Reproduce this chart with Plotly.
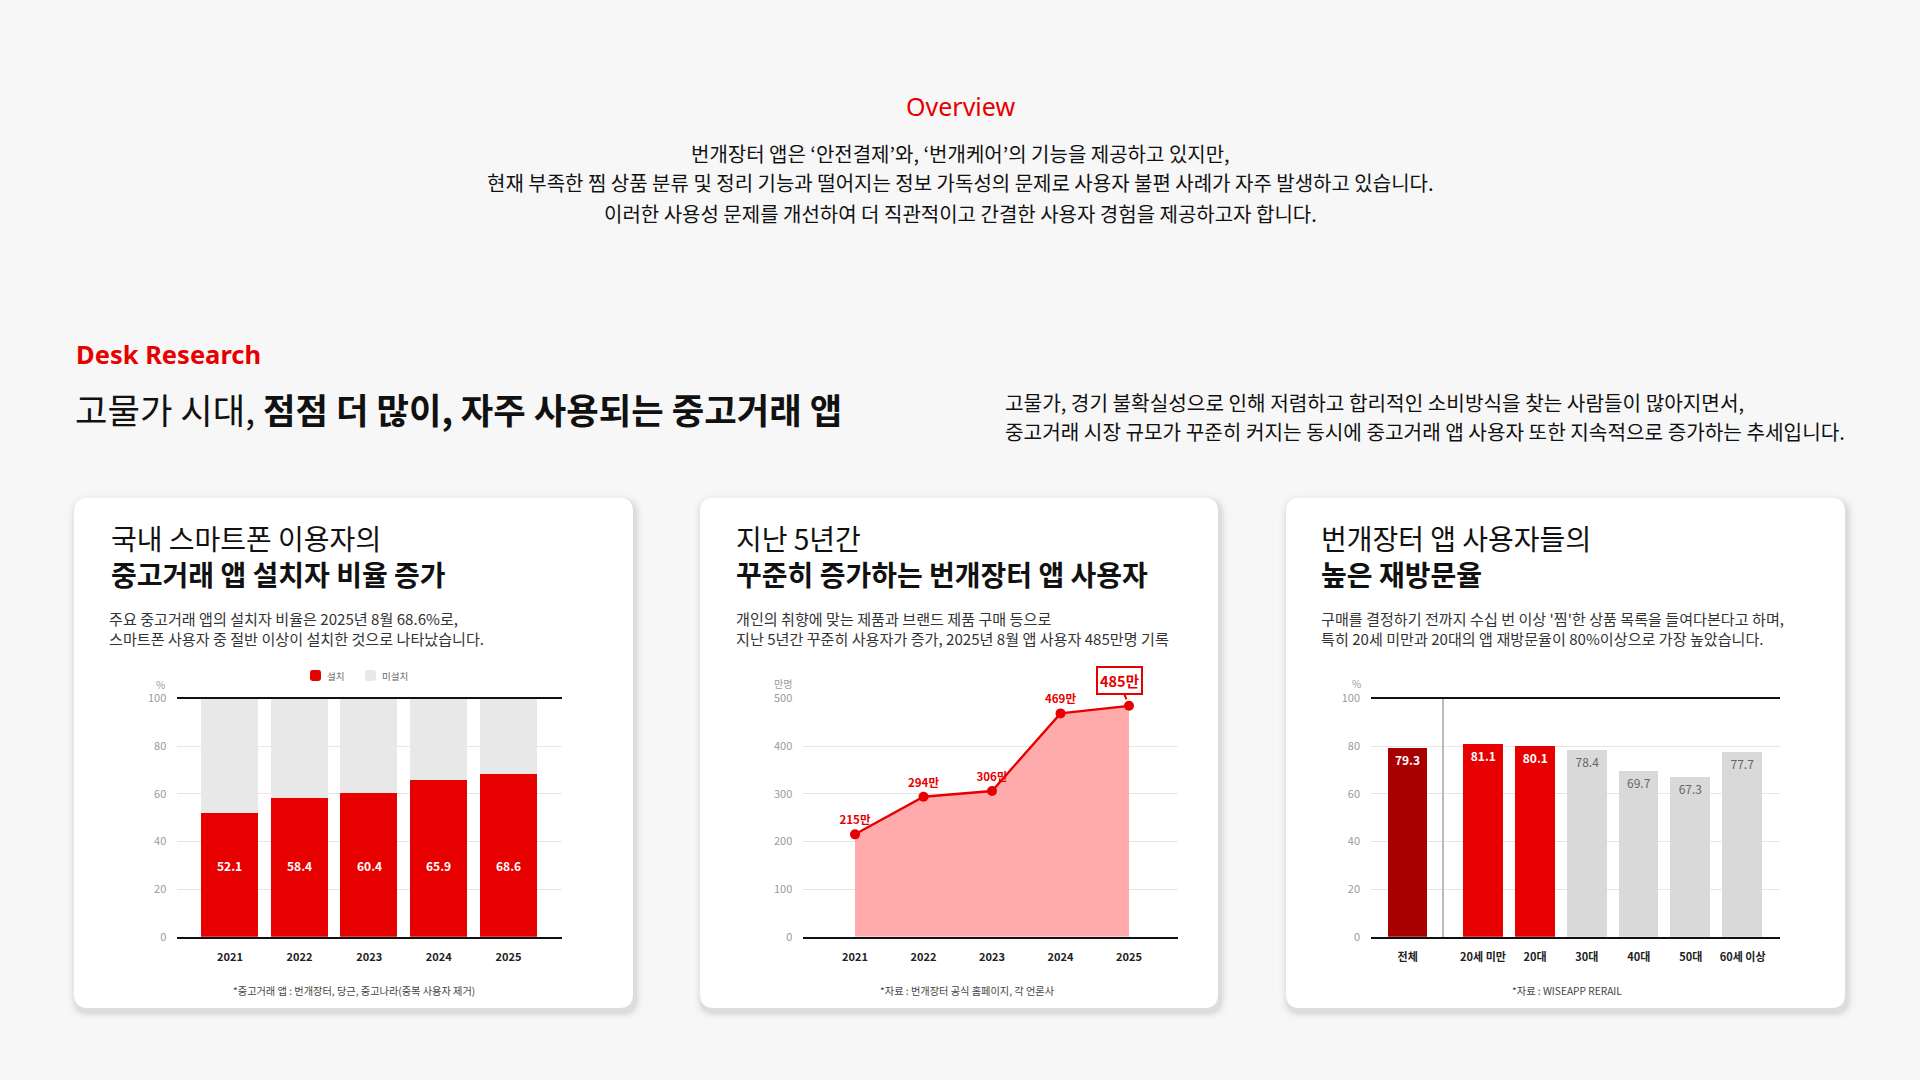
import plotly.graph_objects as go

# ---------------- data ----------------
years = ["2021", "2022", "2023", "2024", "2025"]
install_rate = [52.1, 58.4, 60.4, 65.9, 68.6]          # 설치 (%)
users_10k = [215, 294, 306, 469, 485]                   # 사용자 (만명)
age_groups = ["전체", "20세 미만", "20대", "30대", "40대", "50대", "60세 이상"]
revisit_rate = [79.3, 81.1, 80.1, 78.4, 69.7, 67.3, 77.7]
revisit_colors = ["#A80000", "#E60000", "#E60000", "#D9D9D9", "#D9D9D9", "#D9D9D9", "#D9D9D9"]
revisit_highlight = [True, True, True, False, False, False, False]

W, H = 1920, 1080
KR = "Noto Sans CJK KR"
LAT = "Noto Sans"
RED = "#E60000"
GRAY_BAR = "#E8E8E8"


def px(x):
    return x / W


def py(y):
    return 1 - y / H


def rrect(x0, y0, x1, y1, r):
    return (f"M {px(x0+r)},{py(y0)} L {px(x1-r)},{py(y0)} Q {px(x1)},{py(y0)} {px(x1)},{py(y0+r)} "
            f"L {px(x1)},{py(y1-r)} Q {px(x1)},{py(y1)} {px(x1-r)},{py(y1)} "
            f"L {px(x0+r)},{py(y1)} Q {px(x0)},{py(y1)} {px(x0)},{py(y1-r)} "
            f"L {px(x0)},{py(y0+r)} Q {px(x0)},{py(y0)} {px(x0+r)},{py(y0)} Z")


fig = go.Figure()

# ---------------- chart 1: stacked bars ----------------
fig.add_trace(go.Bar(x=years, y=install_rate, name="설치", marker=dict(color=RED, line=dict(width=0)),
                     width=0.82, xaxis="x", yaxis="y", showlegend=False, hoverinfo="skip"))
fig.add_trace(go.Bar(x=years, y=[100 - v for v in install_rate], name="미설치",
                     marker=dict(color=GRAY_BAR, line=dict(width=0)),
                     width=0.82, xaxis="x", yaxis="y", showlegend=False, hoverinfo="skip"))

# ---------------- chart 2: area line ----------------
fig.add_trace(go.Scatter(x=years, y=users_10k, mode="lines+markers+text",
                         line=dict(color=RED, width=2.3), marker=dict(color=RED, size=10),
                         fill="tozeroy", fillcolor="#FFABAB",
                         text=[f"{v}만" for v in users_10k[:-1]] + [""],
                         textposition="top center",
                         textfont=dict(family=KR, size=11.5, color=RED, weight="bold"),
                         xaxis="x2", yaxis="y2", showlegend=False, hoverinfo="skip", cliponaxis=False))

# ---------------- chart 3: bars (전체 | age groups) ----------------
def lab(v, hi):
    return f"<b>{v}</b>" if hi else f"{v}"

fig.add_trace(go.Bar(x=age_groups[:1], y=revisit_rate[:1], marker=dict(color=revisit_colors[:1], line=dict(width=0)),
                     width=0.54, text=[lab(v, h) for v, h in zip(revisit_rate[:1], revisit_highlight[:1])],
                     textposition="inside", insidetextanchor="end", textangle=0,
                     textfont=dict(family=KR, size=12, color=["white" if h else "#666" for h in revisit_highlight[:1]]),
                     xaxis="x3", yaxis="y3", showlegend=False, hoverinfo="skip"))
fig.add_trace(go.Bar(x=age_groups[1:], y=revisit_rate[1:], marker=dict(color=revisit_colors[1:], line=dict(width=0)),
                     width=0.77, text=[lab(v, h) for v, h in zip(revisit_rate[1:], revisit_highlight[1:])],
                     textposition="inside", insidetextanchor="end", textangle=0,
                     textfont=dict(family=KR, size=12, color=["white" if h else "#666" for h in revisit_highlight[1:]]),
                     xaxis="x4", yaxis="y4", showlegend=False, hoverinfo="skip"))

# ---------------- axes ----------------
ydom = [py(941.7), py(700)]
grid = "#E6E6E6"
tickf = dict(family=KR, size=11, color="#9A9A9A")
xtickf = dict(family=KR, size=11, color="#222", weight="bold")

def xax(dom, rng, mirror):
    return dict(domain=[px(dom[0]), px(dom[1])], range=rng, type="category", showgrid=False, zeroline=False,
                showline=True, linecolor="#111", linewidth=2, mirror=mirror, ticks="",
                tickfont=xtickf, ticklabelstandoff=9, fixedrange=True)

def yax(anchor, rng, dtick, show=True):
    return dict(domain=ydom, range=rng, dtick=dtick, anchor=anchor, showgrid=True, gridcolor=grid, gridwidth=1,
                zeroline=False, showline=False, ticks="", tickfont=tickf, showticklabels=show,
                ticklabelstandoff=10, fixedrange=True)

fig.update_layout(
    xaxis=dict(xax((177.3, 562), [-0.757, 4.77], True), anchor="y"),
    yaxis=yax("x", [0, 100], 20),
    xaxis2=dict(xax((803.3, 1178), [-0.755, 4.715], False), anchor="y2"),
    yaxis2=yax("x2", [0, 500], 100),
    xaxis3=dict(xax((1371, 1444.3), [-0.5, 0.5], True), anchor="y3"),
    yaxis3=yax("x3", [0, 100], 20),
    xaxis4=dict(xax((1444.3, 1780), [-0.746, 5.72], True), anchor="y4"),
    yaxis4=dict(yax("x4", [0, 100], 20, show=False), showline=True, linecolor="#BBBBBB", linewidth=1.5),
)

# ---------------- card shapes ----------------
shapes = []
cards = [(74, 496, 633, 1014), (700, 496, 1218, 1014), (1286, 496, 1845, 1014)]
for (x0, y0, x1, y1) in cards:
    for grow, op in [(9, 0.012), (6, 0.02), (4, 0.03), (2, 0.045)]:
        shapes.append(dict(type="path", xref="paper", yref="paper", layer="below",
                           path=rrect(x0 - grow + 2, y0 - grow + 4, x1 + grow + 2, y1 + grow + 4, 14 + grow),
                           fillcolor=f"rgba(0,0,0,{op})", line=dict(width=0)))
    shapes.append(dict(type="path", xref="paper", yref="paper", layer="below",
                       path=rrect(x0, y0, x1, y1, 14), fillcolor="white", line=dict(width=0)))

# legend squares chart 1
shapes.append(dict(type="path", xref="paper", yref="paper", layer="above",
                   path=rrect(310, 671, 321, 682, 2.5), fillcolor=RED, line=dict(width=0)))
shapes.append(dict(type="path", xref="paper", yref="paper", layer="above",
                   path=rrect(365, 671, 376, 682, 2.5), fillcolor=GRAY_BAR, line=dict(width=0)))

# ---------------- annotations ----------------
ann = []

def text(x, y, s, size, color="#111", family=KR, anchor="left", weight=None):
    f = dict(family=family, size=size, color=color)
    if weight:
        f["weight"] = weight
    ann.append(dict(x=px(x), y=py(y), xref="paper", yref="paper", text=s, showarrow=False,
                    xanchor=anchor, yanchor="middle", align=anchor if anchor != "center" else "center", font=f))

text(960, 98.5, "Overview", 25, RED, LAT, "center")
text(960, 146.5, "번개장터 앱은 ‘안전결제’와, ‘번개케어’의 기능을 제공하고 있지만,", 20, "#111", KR, "center")
text(960, 176.5, "현재 부족한 찜 상품 분류 및 정리 기능과 떨어지는 정보 가독성의 문제로 사용자 불편 사례가 자주 발생하고 있습니다.", 20, "#111", KR, "center")
text(960, 207.5, "이러한 사용성 문제를 개선하여 더 직관적이고 간결한 사용자 경험을 제공하고자 합니다.", 20, "#111", KR, "center")

text(74, 350, "Desk Research", 25.5, RED, LAT, "left", "bold")
text(73, 405, "고물가 시대, <b>점점 더 많이, 자주 사용되는 중고거래 앱</b>", 35.3, "#111", KR)
text(1003, 399.5, "고물가, 경기 불확실성으로 인해 저렴하고 합리적인 소비방식을 찾는 사람들이 많아지면서,", 20.2, "#111", KR)
text(1003, 428.5, "중고거래 시장 규모가 꾸준히 커지는 동시에 중고거래 앱 사용자 또한 지속적으로 증가하는 추세입니다.", 20.2, "#111", KR)

# card titles / descriptions / footnotes
titles = [("국내 스마트폰 이용자의", "중고거래 앱 설치자 비율 증가", 109),
          ("지난 5년간", "꾸준히 증가하는 번개장터 앱 사용자", 734),
          ("번개장터 앱 사용자들의", "높은 재방문율", 1319)]
for t1, t2, x in titles:
    text(x, 555.5, f"{t1}<br><b>{t2}</b>", 28, "#111")

descs = [("주요 중고거래 앱의 설치자 비율은 2025년 8월 68.6%로,", "스마트폰 사용자 중 절반 이상이 설치한 것으로 나타났습니다.", 107),
         ("개인의 취향에 맞는 제품과 브랜드 제품 구매 등으로", "지난 5년간 꾸준히 사용자가 증가, 2025년 8월 앱 사용자 485만명 기록", 734),
         ("구매를 결정하기 전까지 수십 번 이상 '찜'한 상품 목록을 들여다본다고 하며,", "특히 20세 미만과 20대의 앱 재방문율이 80%이상으로 가장 높았습니다.", 1319)]
for d1, d2, x in descs:
    text(x, 628.3, f"{d1}<br>{d2}", 15.1, "#333")

text(354, 996.5, "*중고거래 앱 : 번개장터, 당근, 중고나라(중복 사용자 제거)", 10.2, "#444", KR, "center")
text(967, 996.5, "*자료 : 번개장터 공식 홈페이지, 각 언론사", 10.2, "#444", KR, "center")
text(1567, 996.5, "*자료 : WISEAPP RERAIL", 10.2, "#444", KR, "center")

# unit labels
text(160, 685.5, "%", 10, "#9A9A9A", KR, "center")
text(783, 685, "만명", 10, "#9A9A9A", KR, "center")
text(1356, 685, "%", 10, "#9A9A9A", KR, "center")

# legend texts
text(325, 677, "설치", 9.5, "#666")
text(380, 677, "미설치", 9.5, "#666")

# bar labels chart 1 (fixed height inside bars)
for i, v in enumerate(install_rate):
    ann.append(dict(x=i, y=30.0, xref="x", yref="y", text=f"<b>{v}</b>", showarrow=False,
                    font=dict(family=KR, size=12, color="white"), xanchor="center", yanchor="middle"))

# callout chart 2
ann.append(dict(x=len(users_10k) - 1, y=users_10k[-1], xref="x2", yref="y2", text=f"<b>{users_10k[-1]}만</b>",
                showarrow=True, ax=-10, ay=-25, arrowhead=0, arrowwidth=2, arrowcolor=RED, standoff=7,
                bordercolor=RED, borderwidth=2, borderpad=2, bgcolor="white",
                font=dict(family=KR, size=14.5, color=RED)))

fig.update_layout(
    width=W, height=H, margin=dict(l=0, r=0, t=0, b=0),
    paper_bgcolor="#F7F7F7", plot_bgcolor="rgba(0,0,0,0)",
    barmode="stack", bargap=0, showlegend=False,
    shapes=shapes, annotations=ann,
    font=dict(family=KR),
)

fig.write_html("out.html", config={"displayModeBar": False},
               post_script="document.body.style.margin='0';document.body.style.overflow='hidden';")
